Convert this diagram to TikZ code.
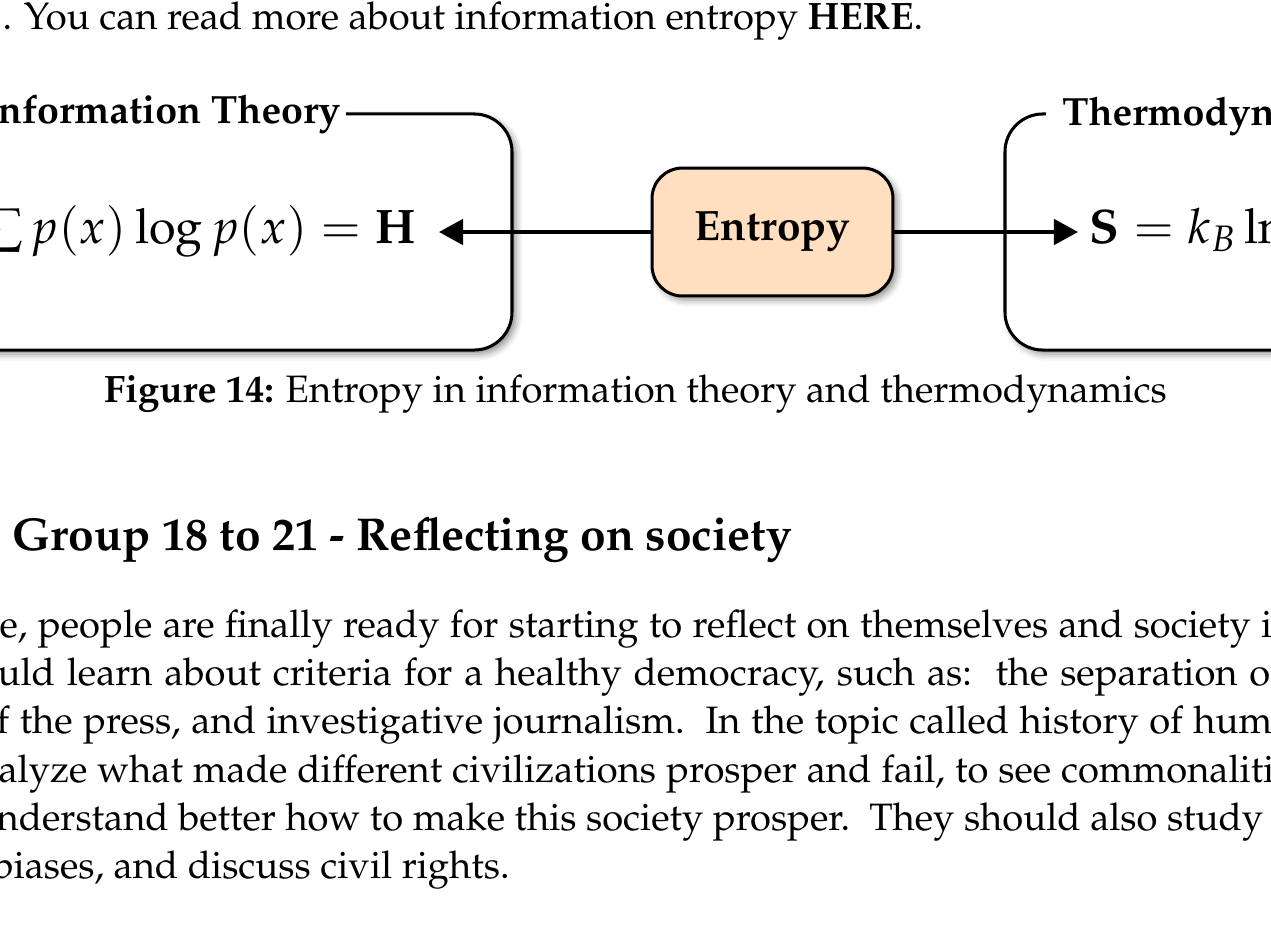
\documentclass[tikz,border=0pt]{standalone}
\usepackage[T1]{fontenc}
\usepackage{mathpazo}
\usetikzlibrary{arrows.meta,shadows.blur}

\definecolor{entropyfill}{RGB}{255,223,191}

\tikzset{
  softshadow/.style={blur shadow={shadow xshift=1.3pt, shadow yshift=-1.3pt,
      shadow blur radius=2.2pt, shadow opacity=45}},
  panel/.style={draw=black, line width=1pt, rounded corners=12.5pt, fill=white,
      softshadow, inner sep=0pt},
  corebox/.style={draw=black, line width=1pt, rounded corners=10pt, fill=entropyfill,
      softshadow, minimum width=79.5pt, minimum height=42.2pt, inner sep=0pt,
      font=\fontsize{14}{16}\selectfont\bfseries},
  paneltitle/.style={fill=white, inner ysep=2pt, font=\fontsize{13}{15}\selectfont\bfseries},
  formula/.style={inner ysep=0pt, font=\fontsize{16}{19}\selectfont},
  link/.style={line width=1pt, -{Triangle[length=8pt, width=8.5pt]}},
  bodyfont/.style={font=\fontsize{12.6}{15.2}\selectfont},
  bodytext/.style={anchor=base west, inner sep=0pt, bodyfont},
  heading/.style={anchor=base west, inner sep=0pt, font=\fontsize{15.2}{18}\selectfont\bfseries},
}

\begin{document}
\begin{tikzpicture}[x=0.33pt, y=-0.33pt]
\useasboundingbox (0,0) rectangle (1271,944);
\clip (0,0) rectangle (1271,944);

% running text above the figure
\node[bodytext] (intro) at (2,29) {. You can read more about information entropy \textbf{HERE}.};

% the two side panels
\node[panel, minimum width=250.8pt, minimum height=77.9pt] (itbox) at (132,232) {};
\node[panel, minimum width=250.8pt, minimum height=77.9pt] (tdbox) at (1385,232) {};

\node[paneltitle, anchor=base east, inner xsep=2pt] (ittitle) at (347,123) {Information Theory};
\node[paneltitle, anchor=base west, inner xsep=5.5pt] (tdtitle) at (1045,125) {Thermodynamics};

% central concept
\node[corebox] (entropy) at (772.5,232) {Entropy};

% the two formulas
\node[formula, anchor=base east, inner xsep=7.3pt] (hform) at (439,243)
  {$\sum p(x)\log p(x) = \mathbf{H}$};
\node[formula, anchor=base west, inner xsep=3.5pt] (sform) at (1078,243)
  {$\mathbf{S} = k_B \ln W$};

\draw[link] (entropy.west) -- (entropy.west -| hform.east);
\draw[link] (entropy.east) -- (entropy.east -| sform.west);

% caption
\node[anchor=base, inner sep=0pt, bodyfont] (caption) at (635.5,402)
  {\textbf{Figure 14:} Entropy in information theory and thermodynamics};

% section heading and paragraph
\node[heading] (sec) at (12,550) {Group 18 to 21 - Reflecting on society};

\node[bodytext] (l1) at (-1,637) {\makebox[420pt][s]{e, people are finally ready for starting to reflect on themselves and society i}};
\node[bodytext] (l2) at (-3,685) {\makebox[420pt][s]{uld learn about criteria for a healthy democracy, such as:\ \ the separation o}};
\node[bodytext] (l3) at (-4,733) {\makebox[421pt][s]{f the press, and investigative journalism.\ \ In the topic called history of hum}};
\node[bodytext] (l4) at (-2,782) {\makebox[421pt][s]{alyze what made different civilizations prosper and fail, to see commonaliti}};
\node[bodytext] (l5) at (-4,830) {\makebox[418pt][s]{nderstand better how to make this society prosper.\ \ They should also study}};
\node[bodytext] (l6) at (-8,878) {biases, and discuss civil rights.};
\end{tikzpicture}
\end{document}
